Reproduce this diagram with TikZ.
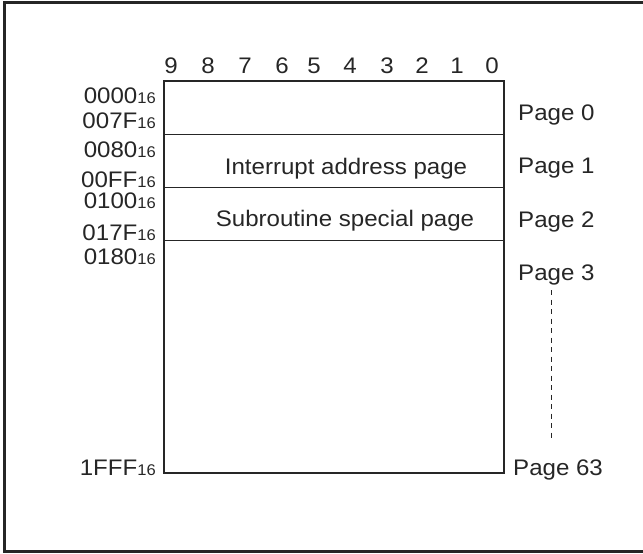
\documentclass[tikz,border=0pt]{standalone}
\usepackage{fontspec}
\setmainfont[FakeStretch=1.07]{Liberation Sans}
\begin{document}
\begin{tikzpicture}[x=1pt,y=-1pt,
  ink/.style={draw=black!85},
  lbl/.style={inner sep=0pt,font=\fontsize{22.5}{26}\selectfont,text=black!85},
  addr/.style={lbl,anchor=base east,text height=16pt,text depth=0pt},
  pagelbl/.style={lbl,anchor=base west},
  bitnum/.style={lbl,anchor=base},
  area/.style={lbl,anchor=base}]
\newcommand{\hexsub}[1]{#1{\fontsize{15.5}{18}\selectfont 16}}
\useasboundingbox (0,0) rectangle (643,554);
% outer frame (open on the right)
\draw[ink,line width=2.2pt] (644,2.5) -- (4.5,2.5) -- (4.5,551.5) -- (644,551.5);
% memory map box and page separators
\draw[ink,line width=1.6pt] (164,81) rectangle (504,473);
\draw[ink,line width=1pt] (164,134) -- (504,134);
\draw[ink,line width=1pt] (164,187) -- (504,187);
\draw[ink,line width=1pt] (164,240) -- (504,240);
% bit numbers
\foreach \b/\xx in {9/171,8/208,7/245,6/282,5/314,4/350,3/387,2/422,1/457,0/492}
  \node[bitnum] (bit\b) at (\xx,73) {\b};
% addresses
\node[addr] (a0000) at (156,103) {\hexsub{0000}};
\node[addr] (a007F) at (156,128) {\hexsub{007F}};
\node[addr] (a0080) at (156,157) {\hexsub{0080}};
\node[addr] (a00FF) at (156,187) {\hexsub{00FF}};
\node[addr] (a0100) at (156,208) {\hexsub{0100}};
\node[addr] (a017F) at (156,240.5) {\hexsub{017F}};
\node[addr] (a0180) at (156,264) {\hexsub{0180}};
\node[addr] (a1FFF) at (156,475) {\hexsub{1FFF}};
% area names
\node[area] (intpage) at (346,174) {Interrupt address page};
\node[area] (subpage) at (345,226) {Subroutine special page};
% page numbers
\node[pagelbl] (p0) at (518,120) {Page 0};
\node[pagelbl] (p1) at (518,173) {Page 1};
\node[pagelbl] (p2) at (518,227) {Page 2};
\node[pagelbl] (p3) at (518,280) {Page 3};
\node[pagelbl] (p63) at (513,475) {Page 63};
% continuation between page 3 and page 63
\coordinate (dtop) at (551,290);
\coordinate (dbot) at (551,441);
\draw[ink,line width=1pt,dash pattern=on 5pt off 4.5pt] (dtop) -- (dbot);
\end{tikzpicture}
\end{document}
